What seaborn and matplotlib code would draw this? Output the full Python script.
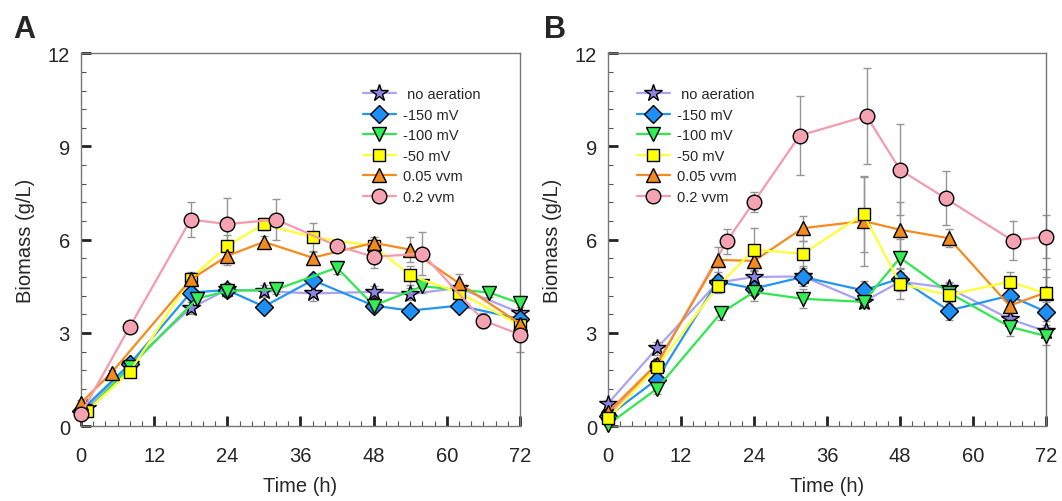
import numpy as np
import pandas as pd
import seaborn as sns
import matplotlib.pyplot as plt
from matplotlib.ticker import MultipleLocator

# ======================
# data
# ======================
labels = [' no aeration', '-150 mV', '-100 mV', '-50 mV', '0.05 vvm', '0.2 vvm']

# panel A
a_time = {
    ' no aeration': [1, 8, 18, 24, 30, 38, 48, 54, 62, 72],
    '-150 mV': [0, 8, 18, 24, 30, 38, 48, 54, 62, 72],
    '-100 mV': [1, 8, 19, 24, 32, 42, 48, 56, 67, 72],
    '-50 mV': [1, 8, 18, 24, 30, 38, 48, 54, 62, 72],
    '0.05 vvm': [0, 5, 18, 24, 30, 38, 48, 54, 62, 72],
    '0.2 vvm': [0, 8, 18, 24, 32, 42, 48, 56, 66, 72],
}
a_mean = {
    ' no aeration': [0.6, 2.0, 3.8, 4.4, 4.35, 4.27, 4.32, 4.25, 4.45, 3.65],
    '-150 mV': [0.5, 2.0, 4.3, 4.38, 3.85, 4.7, 3.88, 3.72, 3.88, 3.45],
    '-100 mV': [0.5, 1.9, 4.1, 4.35, 4.4, 5.1, 3.88, 4.5, 4.3, 3.95],
    '-50 mV': [0.5, 1.75, 4.75, 5.8, 6.5, 6.08, 5.8, 4.85, 4.3, 3.25],
    '0.05 vvm': [0.75, 1.72, 4.72, 5.48, 5.93, 5.42, 5.9, 5.68, 4.6, 3.3],
    '0.2 vvm': [0.4, 3.2, 6.65, 6.5, 6.65, 5.8, 5.45, 5.55, 3.4, 2.95],
}
a_sd = {
    ' no aeration': [0.1, 0.1, 0.2, 0.2, 0.2, 0.25, 0.2, 0.2, 0.15, 0.2],
    '-150 mV': [0.1, 0.1, 0.15, 0.2, 0.15, 0.2, 0.15, 0.15, 0.15, 0.2],
    '-100 mV': [0.1, 0.1, 0.2, 0.2, 0.15, 0.2, 0.2, 0.2, 0.15, 0.25],
    '-50 mV': [0.1, 0.1, 0.2, 0.35, 0.2, 0.45, 0.2, 0.3, 0.2, 0.2],
    '0.05 vvm': [0.1, 0.1, 0.2, 0.3, 0.2, 0.2, 0.2, 0.4, 0.3, 0.2],
    '0.2 vvm': [0.1, 0.2, 0.55, 0.85, 0.65, 0.2, 0.35, 0.7, 0.25, 0.55],
}

# panel B
b_time = {
    ' no aeration': [0, 8, 18, 24, 32, 42, 48, 56, 66, 72],
    '-150 mV': [0, 8, 18, 24, 32, 42, 48, 56, 66, 72],
    '-100 mV': [0, 8, 18.5, 24, 32, 42, 48, 56, 66, 72],
    '-50 mV': [0, 8, 18, 24, 32, 42, 48, 56, 66, 72],
    '0.05 vvm': [0, 8, 18, 24, 32, 42, 48, 56, 66, 72],
    '0.2 vvm': [0, 8, 19.5, 24, 31.5, 42.5, 48, 55.5, 66.5, 72],
}
b_mean = {
    ' no aeration': [0.73, 2.5, 4.62, 4.8, 4.82, 4.0, 4.65, 4.45, 3.45, 3.05],
    '-150 mV': [0.32, 1.5, 4.65, 4.43, 4.8, 4.37, 4.75, 3.72, 4.2, 3.68],
    '-100 mV': [0.05, 1.2, 3.63, 4.32, 4.1, 4.0, 5.42, 4.3, 3.2, 2.9],
    '-50 mV': [0.25, 1.9, 4.5, 5.68, 5.55, 6.82, 4.58, 4.22, 4.65, 4.27],
    '0.05 vvm': [0.45, 2.0, 5.35, 5.32, 6.37, 6.6, 6.32, 6.05, 3.88, 4.3],
    '0.2 vvm': [0.35, 1.95, 5.95, 7.22, 9.35, 9.98, 8.25, 7.33, 5.97, 6.1],
}
b_sd = {
    ' no aeration': [0.1, 0.2, 0.2, 0.2, 0.2, 0.2, 0.3, 0.2, 0.2, 0.2],
    '-150 mV': [0.1, 0.15, 0.2, 0.2, 0.3, 0.3, 0.3, 0.3, 0.3, 0.3],
    '-100 mV': [0.05, 0.15, 0.2, 0.3, 0.3, 0.2, 0.6, 0.3, 0.3, 0.3],
    '-50 mV': [0.1, 0.2, 0.2, 0.7, 0.4, 1.2, 0.5, 0.3, 0.3, 0.8],
    '0.05 vvm': [0.1, 0.2, 0.4, 0.3, 0.4, 1.45, 0.9, 0.3, 0.3, 0.5],
    '0.2 vvm': [0.1, 0.2, 0.4, 0.33, 1.28, 1.55, 1.47, 0.87, 0.63, 0.7],
}

# ======================
# styles
# ======================
line_colors = ['#a9a3f2', '#2196f3', '#2ee84e', '#ffff33', '#f78a1c', '#f59ab0']
fill_colors = ['#8e84e6', '#1e8ff5', '#33ee55', '#ffff00', '#f28a1e', '#f5a3b3']
markers = ['*', 'D', 'v', 's', '^', 'o']
msizes = [13, 9, 10, 9, 10, 10.5]
# drawing order (which series sits on top) differs between the panels
z_a = [3, 4, 5, 6, 7, 8]
z_b = [4, 5, 7, 8, 6, 3]


def to_long(times, means, sds):
    rows = []
    for lab in labels:
        for t, m, s in zip(times[lab], means[lab], sds[lab]):
            rows.append({'time': t, 'biomass': m, 'sd': s, 'group': lab})
    return pd.DataFrame(rows)


df_a = to_long(a_time, a_mean, a_sd)
df_b = to_long(b_time, b_mean, b_sd)

sns.set_style('ticks')
plt.rcParams['font.family'] = ['Liberation Sans', 'DejaVu Sans']

fig = plt.figure(figsize=(10.62, 5.02), dpi=100)
ax_a = fig.add_axes([0.0763, 0.149, 0.4133, 0.743])
ax_b = fig.add_axes([0.5725, 0.149, 0.4125, 0.743])


def draw_panel(ax, df, legend_loc, zorders):
    # error bars first, under the lines
    for i, lab in enumerate(labels):
        d = df[df['group'] == lab]
        ax.errorbar(d['time'], d['biomass'], yerr=d['sd'], fmt='none',
                    ecolor='#959595', elinewidth=1, capsize=3, capthick=1,
                    zorder=1, clip_on=False)
    for i, lab in enumerate(labels):
        d = df[df['group'] == lab]
        sns.lineplot(data=d, x='time', y='biomass', ax=ax, sort=False,
                     color=line_colors[i], linewidth=1.6, marker=markers[i],
                     markersize=msizes[i], markerfacecolor=fill_colors[i],
                     markeredgecolor='black', markeredgewidth=1,
                     label=lab, clip_on=False, zorder=zorders[i])
    ax.set_xlim(0, 72)
    ax.set_ylim(0, 12)
    ax.set_xticks([0, 12, 24, 36, 48, 60, 72])
    ax.set_yticks([0, 3, 6, 9, 12])
    ax.xaxis.set_minor_locator(MultipleLocator(2))
    ax.yaxis.set_minor_locator(MultipleLocator(0.6))
    ax.tick_params(which='major', direction='in', length=7, width=2,
                   labelsize=14.5, color='#222222')
    ax.tick_params(axis='x', which='major', pad=14)
    ax.tick_params(axis='y', which='major', pad=8)
    ax.tick_params(which='minor', direction='in', length=3.5, width=0.8,
                   color='#555555')
    for sp in ax.spines.values():
        sp.set_color('#777777')
        sp.set_linewidth(1)
    ax.set_xlabel('Time (h)', fontsize=14.5, labelpad=8)
    ax.set_ylabel('Biomass (g/L)', fontsize=14.5, labelpad=9)
    ax.legend(loc=legend_loc, frameon=False, fontsize=10.5,
              handlelength=2.3, handletextpad=0.5, labelspacing=0.45,
              borderaxespad=0.4)


draw_panel(ax_a, df_a, (0.628, 0.58), z_a)
draw_panel(ax_b, df_b, (0.052, 0.58), z_b)

fig.text(0.012, 0.925, 'A', fontsize=22, fontweight='bold')
fig.text(0.512, 0.925, 'B', fontsize=22, fontweight='bold')

fig.savefig('out.png', dpi=100)
